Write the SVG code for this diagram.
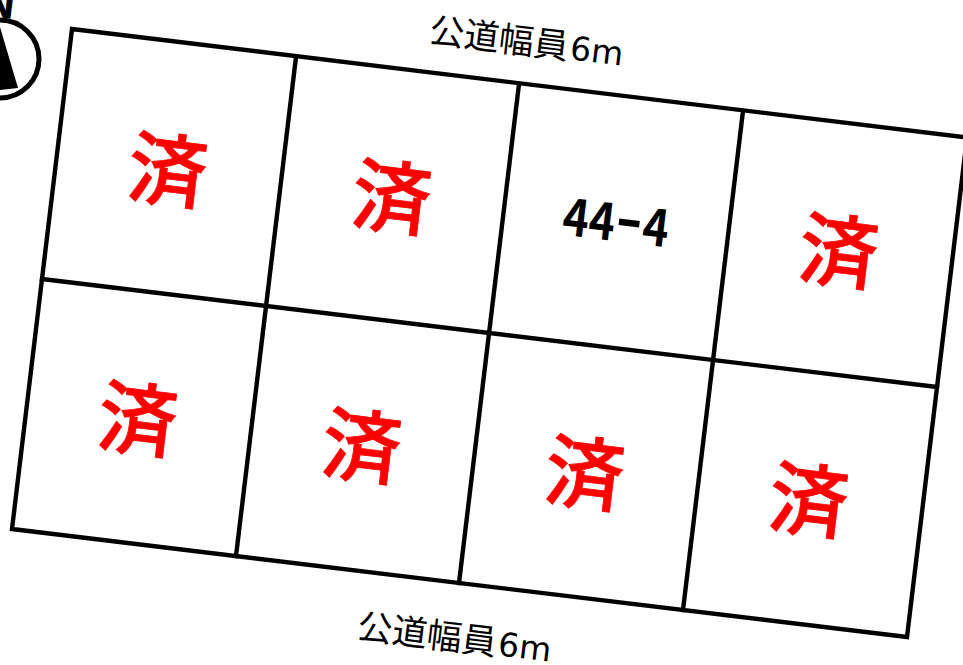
<svg xmlns="http://www.w3.org/2000/svg" width="963" height="665" viewBox="0 0 963 665">
<style>
.l{fill:none;stroke:#000;stroke-width:4.4;stroke-linecap:square}
.s{font-family:"Noto Sans CJK JP","Noto Sans",sans-serif;font-weight:500;font-size:79px;fill:#f00;stroke:#f00;stroke-width:.8;text-anchor:middle;dominant-baseline:central}
.r{font-family:"Noto Sans CJK JP","Noto Sans",sans-serif;font-size:35px;fill:#000;text-anchor:middle}
.r tspan{font-family:"DejaVu Sans",sans-serif;font-size:33px}
</style>
<rect width="963" height="665" fill="#fff"/>
<g id="compass">
<circle cx="0" cy="59" r="39" fill="none" stroke="#000" stroke-width="5"/>
<polygon points="0,27 18,88 0,90 -10,90" fill="#000"/>
<text x="-3" y="17" transform="rotate(6.9 -3 17)" font-family="Liberation Sans,sans-serif" font-weight="700" font-size="46" text-anchor="middle" fill="#000">N</text>
</g>
<g id="connectors">
<polygon class="l" points="72,29 967,137.500 907,637 12,529"/>
<line class="l" x1="42" y1="279" x2="937" y2="387"/>
<line class="l" x1="296" y1="57" x2="236" y2="556"/>
<line class="l" x1="519" y1="84" x2="459" y2="583"/>
<line class="l" x1="743" y1="111" x2="683" y2="610"/>
</g>
<g id="road-top"><text class="r" transform="translate(525 54) rotate(6.9)">公道幅員<tspan dx="2">6m</tspan></text></g>
<g id="road-bottom"><text class="r" transform="translate(453 650) rotate(6.9)">公道幅員<tspan dx="2">6m</tspan></text></g>
<g id="lot-1"><text class="s" transform="translate(168 165) rotate(6.9)">済</text></g>
<g id="lot-2"><text class="s" transform="translate(392 192) rotate(6.9)">済</text></g>
<g id="lot-3"><text transform="translate(616 223) rotate(6.9) scale(.85 1)" y="18" font-family="Noto Sans CJK JP,sans-serif" font-weight="700" font-size="52" text-anchor="middle" fill="#000">44<tspan font-size="95" font-weight="400" dy="7">-</tspan><tspan dy="-7">4</tspan></text></g>
<g id="lot-4"><text class="s" transform="translate(839 246) rotate(6.9)">済</text></g>
<g id="lot-5"><text class="s" transform="translate(138 414) rotate(6.9)">済</text></g>
<g id="lot-6"><text class="s" transform="translate(362 441) rotate(6.9)">済</text></g>
<g id="lot-7"><text class="s" transform="translate(585 468) rotate(6.9)">済</text></g>
<g id="lot-8"><text class="s" transform="translate(809 495) rotate(6.9)">済</text></g>
</svg>
